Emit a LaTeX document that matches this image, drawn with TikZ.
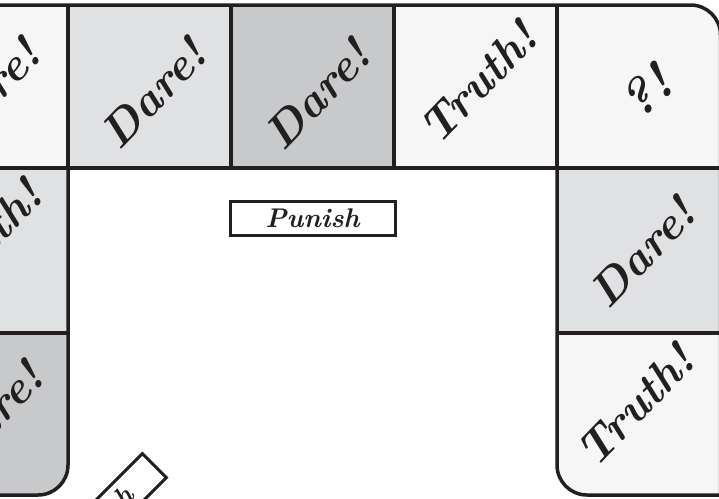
\documentclass[tikz,border=0pt]{standalone}
\definecolor{cA}{HTML}{F6F6F6}
\definecolor{cB}{HTML}{E0E1E3}
\definecolor{cC}{HTML}{C8C9CB}
\definecolor{ink}{HTML}{231F20}
\tikzset{
  lbl/.style={font=\fontsize{46}{46}\selectfont\bfseries\itshape, text=ink, rotate=46, inner sep=0pt},
  qlbl/.style={font=\fontsize{52}{52}\selectfont\bfseries\itshape, text=ink, rotate=40, inner sep=0pt},
  gridline/.style={draw=ink, line width=3.5pt},
  card/.style={draw=ink, line width=3pt, fill=white, minimum width=165pt, minimum height=34pt, inner sep=0pt,
    font=\fontsize{27}{27}\selectfont\bfseries\itshape, text=ink}
}
\begin{document}
\begin{tikzpicture}[x=1pt,y=-1pt]
\useasboundingbox (0,0) rectangle (719,498);
\clip (0,0) rectangle (719,498);
\def\boardoutline{(-100,5) -- (690.5,5) arc (-90:0:30) -- (720.5,495) -- (587,495) arc (90:180:30) -- (557,168) -- (68,168) -- (68,465) arc (0:90:30) -- (-100,495) -- cycle}
% board base
\fill[white] (0,0) rectangle (719,498);
\fill[cA] \boardoutline;
\begin{scope}
  \clip \boardoutline;
  \fill[cB] (68,5) rectangle (231,168);
  \fill[cC] (231,5) rectangle (394,168);
  \fill[cB] (-100,168) rectangle (68,333);
  \fill[cC] (-100,333) rectangle (68,500);
  \fill[cB] (557,168) rectangle (725,333);
  % dividers
  \draw[gridline] (68,5) -- (68,168);
  \draw[gridline] (231,5) -- (231,168);
  \draw[gridline] (394,5) -- (394,168);
  \draw[gridline] (557,5) -- (557,168);
  \draw[gridline] (-100,168) -- (725,168);
  \draw[gridline] (-100,333) -- (68,333);
  \draw[gridline] (557,333) -- (725,333);
\end{scope}
\draw[gridline, line join=round] \boardoutline;
% labels
\node[lbl] (t0) at (-13,93) {Dare!};
\node[lbl] (t1) at (153,93) {Dare!};
\node[lbl] (t2) at (317,94) {Dare!};
\node[lbl] (t3) at (478,82) {Truth!};
\node[qlbl] (t4) at (646,92) {?!};
\node[lbl] (l1) at (-17,240) {Truth!};
\node[lbl] (l2) at (-10,416) {Dare!};
\node[lbl] (r1) at (642,252) {Dare!};
\node[lbl] (r2) at (635,405) {Truth!};
% punish cards
\node[card] (punish) at (312.5,218) {Punish};
\node[card, rotate=45] (pcard) at (96,524) {Punish};
\end{tikzpicture}
\end{document}
